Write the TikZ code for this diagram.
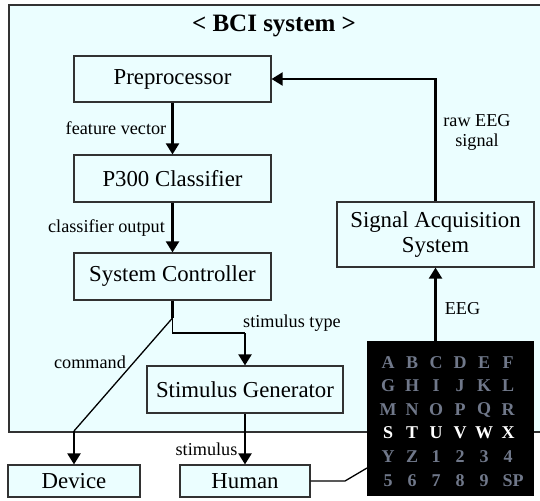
\documentclass[tikz,border=0pt]{standalone}
\usepackage{fontspec}
\setmainfont{Liberation Serif}
\usetikzlibrary{arrows.meta}
\definecolor{bcibg}{RGB}{235,254,255}
\definecolor{boxborder}{RGB}{50,50,50}
\definecolor{mtxgrey}{RGB}{112,120,138}
\newcommand{\boxfont}{\fontsize{22.8}{26}\selectfont}
\newcommand{\lblfont}{\fontsize{18.2}{21}\selectfont}
\newcommand{\mtxfont}{\fontsize{18}{20}\selectfont\bfseries}
\tikzset{
  box/.style={draw=boxborder, fill=bcibg, line width=1.2pt, inner sep=0pt, font=\boxfont, align=center},
  lbl/.style={inner sep=0pt, font=\lblfont, align=center},
  arr/.style={line width=2.2pt, -{Triangle[length=11pt,width=13pt]}},
  thinline/.style={line width=1.3pt},
  mg/.style={text=mtxgrey, font=\mtxfont, inner sep=0pt},
  mw/.style={text=white, font=\mtxfont, inner sep=0pt}
}
\begin{document}
\begin{tikzpicture}[x=1pt,y=-1pt]
\clip (0,0) rectangle (540,500);
\fill[white] (0,0) rectangle (540,500);
% outer system box
\node[draw=boxborder, fill=bcibg, line width=1.6pt, minimum width=545pt, minimum height=427pt, inner sep=0pt, anchor=north west] (bci) at (8,4) {};
\node[inner sep=0pt, font=\fontsize{25}{28}\selectfont\bfseries] (title) at (274,26) {< BCI system >};
% boxes
\node[box, minimum width=197pt, minimum height=46pt] (pre) at (172.5,79) {Preprocessor};
\node[box, minimum width=197pt, minimum height=47pt] (p300) at (172.5,178.5) {P300 Classifier};
\node[box, minimum width=197pt, minimum height=47pt] (ctrl) at (172.5,276.5) {System Controller};
\node[box, minimum width=196pt, minimum height=47pt] (stim) at (245,389.5) {Stimulus Generator};
\node[box, minimum width=197pt, minimum height=65pt] (sas) at (435.5,234.5) {Signal Acquisition\\[-1pt]System};
\node[box, minimum width=132pt, minimum height=32pt] (device) at (74,481) {Device};
\node[box, minimum width=130pt, minimum height=32pt] (human) at (245,481) {Human};
% speller matrix
\node[fill=black, minimum width=167pt, minimum height=155pt, inner sep=0pt] (matrix) at (450.5,418.5) {};
\foreach \t [count=\i from 0] in {A,B,C,D,E,F}{\node[mg] (ma\i) at (388+24*\i,362.3) {\t};}
\foreach \t [count=\i from 0] in {G,H,I,J,K,L}{\node[mg] (mb\i) at (388+24*\i,385.8) {\t};}
\foreach \t [count=\i from 0] in {M,N,O,P,Q,R}{\node[mg] (mc\i) at (388+24*\i,409.5) {\t};}
\foreach \t [count=\i from 0] in {S,T,U,V,W,X}{\node[mw] (md\i) at (388+24*\i,432.5) {\t};}
\foreach \t [count=\i from 0] in {Y,Z,1,2,3,4}{\node[mg] (me\i) at (388+24*\i,456.2) {\t};}
\foreach \t [count=\i from 0] in {5,6,7,8,9}{\node[mg] (mf\i) at (388+24*\i,480.5) {\t};}
\node[mg] (mfsp) at (513,480.5) {SP};
% coordinates
\coordinate (ctrlbend) at (172.5,333);
\coordinate (cmdsplit) at (172.5,318);
\coordinate (cmdbend) at (74,431);
\coordinate (hbend) at (345,481);
\coordinate (mtxin) at (367,468);
\coordinate (rawbend) at (sas.north |- pre.east);
% connectors
\draw[arr] (pre.south) -- (p300.north);
\draw[arr] (p300.south) -- (ctrl.north);
\draw[line width=2.2pt] (ctrl.south) -- (cmdsplit);
\draw[thinline] (cmdsplit) -- (ctrlbend) -- (ctrlbend -| stim.north);
\draw[arr] (ctrlbend -| stim.north) -- (stim.north);
\draw[thinline] (cmdsplit) -- (cmdbend);
\draw[arr] (cmdbend) -- (device.north);
\draw[arr] (stim.south) -- (human.north);
\draw[thinline] (human.east) -- (hbend) -- (mtxin);
\draw[arr] (sas.south |- matrix.north) -- (sas.south);
\draw[arr] (sas.north) -- (rawbend) -- (pre.east);
% labels
\node[lbl] (lfv) at (116,128) {feature vector};
\node[lbl] (lco) at (106.5,228) {classifier output};
\node[lbl] (lst) at (292,323) {stimulus type};
\node[lbl] (lcmd) at (90,362) {command};
\node[lbl] (lstim) at (206.5,449) {stimulus};
\node[lbl] (leeg) at (462.5,309) {EEG};
\node[lbl, font=\fontsize{18.2}{20}\selectfont] (lraw) at (477,132) {raw EEG\\signal};
\end{tikzpicture}
\end{document}
